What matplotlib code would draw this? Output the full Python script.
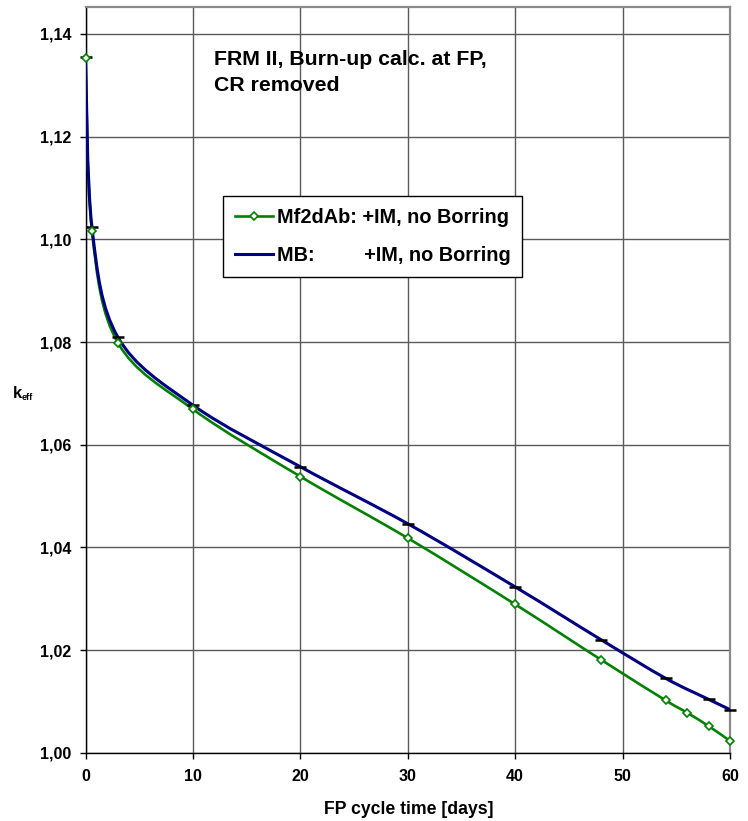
import matplotlib
matplotlib.use("Agg")
import matplotlib.pyplot as plt
from matplotlib.path import Path
from matplotlib.patches import PathPatch
from matplotlib.lines import Line2D

# k_eff over the FP cycle, two calculation routes
days_mf = [0, 0.6, 3, 10, 20, 30, 40, 48, 54, 56, 58, 60]
keff_mf = [1.1353, 1.1016, 1.0799, 1.0669, 1.0538, 1.0418, 1.0289,
           1.0181, 1.0102, 1.0078, 1.0052, 1.0023]
days_mb = [0, 0.6, 3, 10, 20, 30, 40, 48, 54, 58, 60]
keff_mb = [1.1355, 1.1024, 1.0810, 1.0677, 1.0557, 1.0446, 1.0323,
           1.0220, 1.0145, 1.0104, 1.0084]

label_mf = "Mf2dAb: +IM, no Borring"
label_mb = "MB:         +IM, no Borring"
title_lines = ["FRM II, Burn-up calc. at FP,", "CR removed"]
x_ticks = [0, 10, 20, 30, 40, 50, 60]
y_ticks = [1.00, 1.02, 1.04, 1.06, 1.08, 1.10, 1.12, 1.14]

GREEN = "#008000"
NAVY = "#000080"
FONT = ["Liberation Sans", "DejaVu Sans"]
W, H = 748, 821


def smooth_path(xs, ys):
    # bezier through the points, the way spreadsheet "smoothed lines" are drawn
    pts = list(zip(xs, ys))
    n = len(pts)
    verts = [pts[0]]
    codes = [Path.MOVETO]
    for i in range(n - 1):
        p0 = pts[i - 1] if i > 0 else pts[i]
        p1 = pts[i]
        p2 = pts[i + 1]
        p3 = pts[i + 2] if i + 2 < n else pts[i + 1]
        c1 = (p1[0] + (p2[0] - p0[0]) / 6, p1[1] + (p2[1] - p0[1]) / 6)
        c2 = (p2[0] - (p3[0] - p1[0]) / 6, p2[1] - (p3[1] - p1[1]) / 6)
        verts += [c1, c2, p2]
        codes += [Path.CURVE4] * 3
    return Path(verts, codes)


def main():
    plt.rcParams["font.family"] = FONT
    plt.rcParams["font.weight"] = "bold"

    fig = plt.figure(figsize=(W / 100, H / 100), dpi=100)
    ax = fig.add_axes([85.5 / W, 1 - 752.7 / H, (730 - 85.5) / W, (752.7 - 7.3) / H])

    ax.set_xlim(0, 60)
    ax.set_ylim(1.0, 1.1452)
    ax.set_xticks(x_ticks)
    ax.set_yticks(y_ticks)
    ax.set_yticklabels([f"{v:.2f}".replace(".", ",") for v in y_ticks])
    ax.grid(True, color="#5a5a5a", linewidth=1.0)
    ax.set_axisbelow(True)

    ax.tick_params(axis="both", direction="out", length=4, width=1,
                   labelsize=11.5, colors="black")
    ax.tick_params(axis="y", pad=6)
    ax.tick_params(axis="x", pad=8)
    for lab in ax.get_xticklabels() + ax.get_yticklabels():
        lab.set_fontweight("bold")

    for side in ("left", "bottom"):
        ax.spines[side].set_color("black")
        ax.spines[side].set_linewidth(1.0)
    for side in ("top", "right"):
        ax.spines[side].set_color("#8a8a8a")
        ax.spines[side].set_linewidth(1.6)

    # smoothed lines
    ax.add_patch(PathPatch(smooth_path(days_mf, keff_mf), fill=False,
                           edgecolor=GREEN, linewidth=1.9, zorder=3,
                           capstyle="round", joinstyle="round"))
    ax.add_patch(PathPatch(smooth_path(days_mb, keff_mb), fill=False,
                           edgecolor=NAVY, linewidth=2.2, zorder=4,
                           capstyle="round", joinstyle="round"))

    # markers on the data points
    ax.plot(days_mf, keff_mf, linestyle="none", marker="D", markersize=3.8,
            markerfacecolor="white", markeredgecolor=GREEN,
            markeredgewidth=1.2, zorder=6, clip_on=False)
    ax.plot(days_mb, keff_mb, linestyle="none", marker="_", markersize=8,
            markeredgecolor="black", markeredgewidth=1.8, zorder=5,
            clip_on=False)

    handles = [
        Line2D([], [], color=GREEN, linewidth=1.9, marker="D", markersize=3.8,
               markerfacecolor="white", markeredgecolor=GREEN,
               markeredgewidth=1.2),
        Line2D([], [], color=NAVY, linewidth=2.2),
    ]
    leg = fig.legend(handles, [label_mf, label_mb], loc="upper left",
                     bbox_to_anchor=(223 / W, 1 - 196 / H),
                     prop={"family": FONT, "weight": "bold", "size": 14.3},
                     frameon=True, fancybox=False, shadow=False,
                     handlelength=1.9, handletextpad=0.2, labelspacing=0.95,
                     borderpad=0.6, borderaxespad=0)
    leg.get_frame().set_edgecolor("black")
    leg.get_frame().set_linewidth(1.0)
    leg.get_frame().set_facecolor("white")
    leg.get_frame().set_alpha(1)

    # note in the upper part of the plot
    for line, base in zip(title_lines, (65, 91)):
        fig.text(214 / W, 1 - base / H, line, ha="left", va="baseline",
                 fontsize=15.3, fontweight="bold")

    fig.text(408.5 / W, 1 - 814 / H, "FP cycle time [days]",
             ha="center", va="baseline", fontsize=12.7, fontweight="bold")

    fig.text(13 / W, 1 - 397.5 / H, "k", ha="left", va="baseline",
             fontsize=12, fontweight="bold")
    fig.text(21.5 / W, 1 - 400 / H, "eff", ha="left", va="baseline",
             fontsize=6.5, fontweight="bold")

    fig.savefig("out.png", dpi=100)


if __name__ == '__main__':
    main()
